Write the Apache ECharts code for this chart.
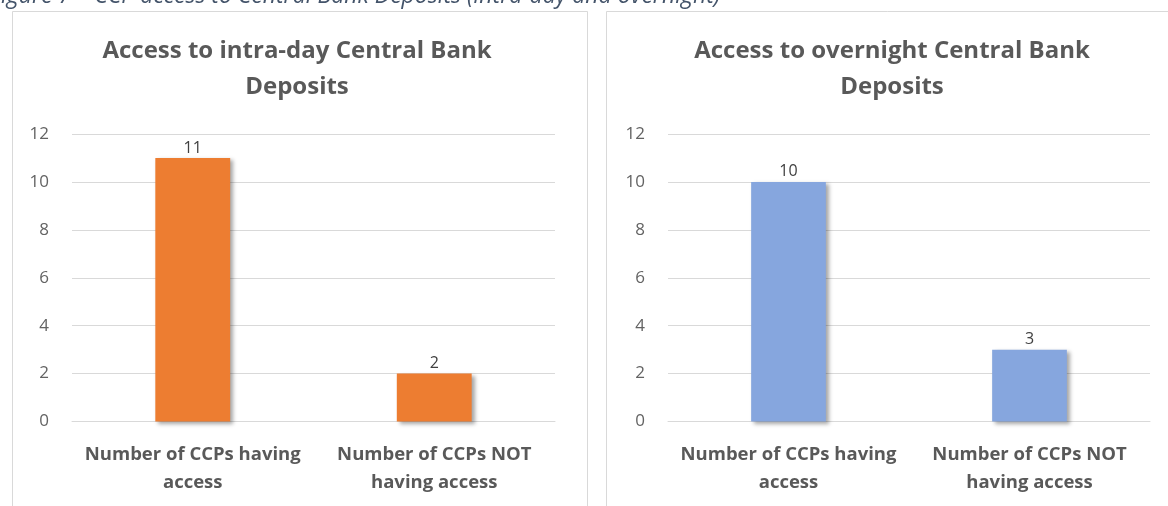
<!DOCTYPE html>
<html>
<head>
<meta charset="utf-8">
<script src="https://cdn.jsdelivr.net/npm/echarts@6/dist/echarts.min.js"></script>
<style>
html,body{margin:0;padding:0;background:#fff;}
#c{width:1168px;height:506px;}
</style>
</head>
<body>
<div id="c"></div>
<script>
const caption = "Figure 7 – CCP access to Central Bank Deposits (intra-day and overnight)";
const titleLeft = "Access to intra-day Central Bank\nDeposits";
const titleRight = "Access to overnight Central Bank\nDeposits";
const categories = ["Number of CCPs having\naccess", "Number of CCPs NOT\nhaving access"];
const intradayValues = [11, 2];
const overnightValues = [10, 3];
const yTicks = {min: 0, max: 12, interval: 2};

const FONT = "'Open Sans', Lato, sans-serif";
const chart = echarts.init(document.getElementById('c'), null, {renderer: 'canvas'});

function yAxis(gi) {
  return {
    type: 'value', gridIndex: gi, min: yTicks.min, max: yTicks.max, interval: yTicks.interval,
    axisLine: {show: false}, axisTick: {show: false},
    axisLabel: {color: '#636363', fontSize: 17, fontFamily: FONT, margin: 23},
    splitLine: {lineStyle: {color: '#d9d9d9', width: 1}}
  };
}
function xAxis(gi) {
  return {
    type: 'category', gridIndex: gi, data: categories,
    axisLine: {lineStyle: {color: '#d9d9d9'}}, axisTick: {show: false},
    axisLabel: {color: '#595959', fontSize: 18.5, fontWeight: 'bold', fontFamily: FONT, margin: 19, lineHeight: 28, interval: 0}
  };
}
function series(gi, data, color) {
  return {
    type: 'bar', xAxisIndex: gi, yAxisIndex: gi, data: data, barWidth: '31%',
    itemStyle: {color: color, shadowColor: 'rgba(0,0,0,0.35)', shadowBlur: 4, shadowOffsetX: 3, shadowOffsetY: 2},
    label: {show: true, position: 'top', distance: 2, color: '#404040', fontSize: 16, fontFamily: FONT},
    animation: false
  };
}

chart.setOption({
  backgroundColor: '#ffffff',
  animation: false,
  title: [
    {text: titleLeft, left: 297, top: 33, textAlign: 'center', padding: 0,
     textStyle: {color: '#595959', fontSize: 24, fontWeight: 'bold', fontFamily: FONT, lineHeight: 36}},
    {text: titleRight, left: 892, top: 33, textAlign: 'center', padding: 0,
     textStyle: {color: '#595959', fontSize: 24, fontWeight: 'bold', fontFamily: FONT, lineHeight: 36}}
  ],
  graphic: [
    {type: 'rect', left: 10, top: 9, shape: {width: 575, height: 496}, style: {fill: 'none', stroke: '#d9d9d9', lineWidth: 1}, z: -1},
    {type: 'rect', left: 604, top: 9, shape: {width: 600, height: 520}, style: {fill: 'none', stroke: '#d9d9d9', lineWidth: 1}, z: -1},
    {type: 'text', left: -10, top: -15, style: {text: caption, font: "italic 23px 'Open Sans', Lato, sans-serif", fill: '#44546A'}}
  ],
  grid: [
    {left: 72, right: 613, top: 134, bottom: 84.5},
    {left: 668, right: 18, top: 134, bottom: 84.5}
  ],
  xAxis: [xAxis(0), xAxis(1)],
  yAxis: [yAxis(0), yAxis(1)],
  series: [series(0, intradayValues, '#ED7D31'), series(1, overnightValues, '#86A6DE')]
});
</script>
</body>
</html>
